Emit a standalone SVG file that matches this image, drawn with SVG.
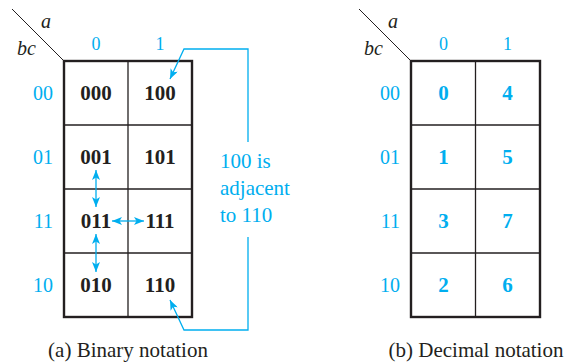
<svg xmlns="http://www.w3.org/2000/svg" width="566" height="363" viewBox="0 0 566 363">
<style>
.bg{fill:#fff}
.outer{fill:none;stroke:#231f20;stroke-width:2.4}
.inner{fill:none;stroke:#231f20;stroke-width:1.3}
.diag{fill:none;stroke:#231f20;stroke-width:1}
.var{font-family:"Liberation Serif",serif;font-style:italic;font-size:20px;fill:#231f20}
.hdr{font-family:"Liberation Serif",serif;font-size:18px;fill:#00aeef;text-anchor:middle}
.row{font-family:"Liberation Serif",serif;font-size:20px;fill:#00aeef;text-anchor:end}
.cell{font-family:"Liberation Serif",serif;font-weight:bold;font-size:21px;fill:#231f20;text-anchor:middle}
.cellb{font-family:"Liberation Serif",serif;font-weight:bold;font-size:21px;fill:#00aeef;text-anchor:middle}
.note{font-family:"Liberation Serif",serif;font-size:21px;fill:#00aeef}
.cap{font-family:"Liberation Serif",serif;font-size:21px;fill:#231f20;text-anchor:middle}
.conn{fill:none;stroke:#00aeef;stroke-width:1.3}
</style>
<defs>
<marker id="ah" viewBox="0 0 10 8" refX="10" refY="4" markerWidth="10" markerHeight="8" markerUnits="userSpaceOnUse" orient="auto-start-reverse">
<path d="M0,0 L10,4 L0,8 L2.5,4 z" fill="#00aeef"/>
</marker>
</defs>
<rect class="bg" width="566" height="363"/>

<g id="mapA">
<line class="diag" x1="12" y1="9" x2="64" y2="61"/>
<text class="var" x="41" y="28">a</text>
<text class="var" x="17" y="55">bc</text>
<text class="hdr" x="96" y="50">0</text>
<text class="hdr" x="160" y="50">1</text>
<text class="row" x="53" y="100">00</text>
<text class="row" x="53" y="164">01</text>
<text class="row" x="53" y="228">11</text>
<text class="row" x="53" y="292">10</text>
<line class="inner" x1="128" y1="61" x2="128" y2="317"/>
<line class="inner" x1="64" y1="125" x2="192" y2="125"/>
<line class="inner" x1="64" y1="189" x2="192" y2="189"/>
<line class="inner" x1="64" y1="253" x2="192" y2="253"/>
<rect class="outer" x="64" y="61" width="128" height="256"/>
</g>
<g id="cellA000"><text class="cell" x="96" y="100">000</text></g>
<g id="cellA100"><text class="cell" x="160" y="100">100</text></g>
<g id="cellA001"><text class="cell" x="96" y="164">001</text></g>
<g id="cellA101"><text class="cell" x="160" y="164">101</text></g>
<g id="cellA011"><text class="cell" x="96" y="228">011</text></g>
<g id="cellA111"><text class="cell" x="160" y="228">111</text></g>
<g id="cellA010"><text class="cell" x="96" y="292">010</text></g>
<g id="cellA110"><text class="cell" x="160" y="292">110</text></g>
<g id="note">
<text class="note" x="220" y="168">100 is</text>
<text class="note" x="220" y="195">adjacent</text>
<text class="note" x="220" y="222">to 110</text>
</g>

<g id="connectors">
<line class="conn" x1="96" y1="170" x2="96" y2="207" marker-start="url(#ah)" marker-end="url(#ah)"/>
<line class="conn" x1="96" y1="234" x2="96" y2="272" marker-start="url(#ah)" marker-end="url(#ah)"/>
<line class="conn" x1="112" y1="221" x2="144" y2="221" marker-start="url(#ah)" marker-end="url(#ah)"/>
<polyline class="conn" points="248,142 248,49 184,49 170,79" marker-end="url(#ah)"/>
<polyline class="conn" points="248,237 248,330 184,330 170,300" marker-end="url(#ah)"/>
</g>

<g id="mapB">
<line class="diag" x1="359" y1="9" x2="411" y2="61"/>
<text class="var" x="388" y="28">a</text>
<text class="var" x="364" y="55">bc</text>
<text class="hdr" x="443.5" y="50">0</text>
<text class="hdr" x="507.5" y="50">1</text>
<text class="row" x="400" y="100">00</text>
<text class="row" x="400" y="164">01</text>
<text class="row" x="400" y="228">11</text>
<text class="row" x="400" y="292">10</text>
<line class="inner" x1="475.5" y1="61" x2="475.5" y2="317"/>
<line class="inner" x1="411" y1="125" x2="540" y2="125"/>
<line class="inner" x1="411" y1="189" x2="540" y2="189"/>
<line class="inner" x1="411" y1="253" x2="540" y2="253"/>
<rect class="outer" x="411" y="61" width="129" height="256"/>
</g>
<g id="cellB0"><text class="cellb" x="443.5" y="100">0</text></g>
<g id="cellB4"><text class="cellb" x="507.5" y="100">4</text></g>
<g id="cellB1"><text class="cellb" x="443.5" y="164">1</text></g>
<g id="cellB5"><text class="cellb" x="507.5" y="164">5</text></g>
<g id="cellB3"><text class="cellb" x="443.5" y="228">3</text></g>
<g id="cellB7"><text class="cellb" x="507.5" y="228">7</text></g>
<g id="cellB2"><text class="cellb" x="443.5" y="292">2</text></g>
<g id="cellB6"><text class="cellb" x="507.5" y="292">6</text></g>

<g id="captions">
<text class="cap" x="128" y="357">(a) Binary notation</text>
<text class="cap" x="476" y="357">(b) Decimal notation</text>
</g>
</svg>
